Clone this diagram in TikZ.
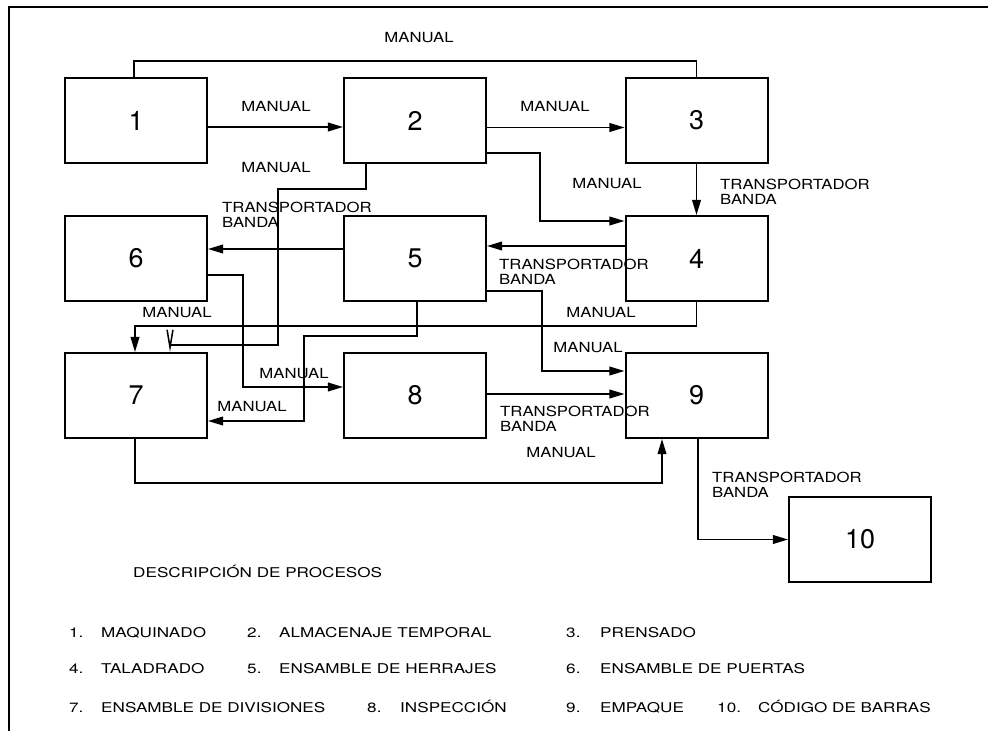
\documentclass[tikz,border=0pt]{standalone}
\usepackage{fontspec}
\usetikzlibrary{positioning,arrows.meta,calc}
\newfontfamily\lblfont[FakeStretch=1.2]{TeX Gyre Heros}
\newfontfamily\legfont[FakeStretch=1.27]{TeX Gyre Heros}
\newfontfamily\numfont{TeX Gyre Heros}

\begin{document}
\begin{tikzpicture}[
        x=0.03cm, y=-0.03cm,
        proc/.style={draw, line width=1.7pt, minimum width=4.26cm, minimum height=2.55cm, inner sep=0pt, font=\numfont\fontsize{23}{23}\selectfont},
        conn/.style={line width=1.4pt, -{Triangle[length=13pt, width=7.5pt]}},
        plain/.style={line width=1.4pt},
        barb/.style={line width=1.4pt, -{Straight Barb[length=15pt, width=5pt, line width=1.3pt]}},
        lbl/.style={inner sep=0pt, font=\lblfont\fontsize{11.9}{12.8}\selectfont},
        tblbl/.style={lbl, anchor=west, align=left},
        leg/.style={inner sep=0pt, anchor=base west, font=\legfont\fontsize{11.5}{12}\selectfont},
        frame/.style={line width=1.8pt}
    ]
        \useasboundingbox (0,0) rectangle (988,731);

        % Outer frame (top and left)
        \draw[frame] (988,7) -- (9,7) -- (9,731);

        % Process boxes
        \node[proc] (b1) at (136,120.5) {1};
        \node[proc] (b2) at (415,120.5) {2};
        \node[proc] (b3) at (696.5,120.5) {3};
        \node[proc] (b6) at (136,258.5) {6};
        \node[proc] (b5) at (415,258.5) {5};
        \node[proc] (b4) at (696.5,258.5) {4};
        \node[proc] (b7) at (136,395.5) {7};
        \node[proc] (b8) at (415,395.5) {8};
        \node[proc] (b9) at (696.5,395.5) {9};
        \node[proc] (b10) at (860,539.5) {10};

        % Connectors
        \draw[plain] ($(b1.north)+(-2,0)$) -- ++(0,-16) -| (b3.north);
        \draw[conn] ($(b1.east)+(0,6.5)$) -- ($(b2.west)+(0,6.5)$);
        \draw[conn] ($(b2.east)+(0,7)$) -- ($(b3.west)+(0,7)$);
        \draw[conn] ($(b2.east)+(0,32.5)$) -- ++(53,0) |- ($(b4.west)+(0,-37.5)$);
        \draw[conn] (b3.south) -- (b4.north);
        \draw[conn] ($(b4.west)+(0,-12.5)$) -- ($(b5.east)+(0,-12.5)$);
        \draw[conn] ($(b5.west)+(0,-9.5)$) -- ($(b6.east)+(0,-9.5)$);
        \draw[barb] ($(b2.south)+(-49,0)$) |- ++(-88,25) -- ++(0,156) -| ($(b7.north)+(34,0)$);
        \draw[conn] (b4.south) -- ++(0,24) -| ($(b7.north)+(-1,0)$);
        \draw[conn] ($(b6.east)+(0,16.5)$) -- ++(35,0) |- ($(b8.west)+(0,-8.5)$);
        \draw[conn] ($(b5.south)+(2,0)$) |- ++(-113,34) |- ($(b7.east)+(0,25.5)$);
        \draw[conn] ($(b5.east)+(0,32.5)$) -- ++(55,0) |- ($(b9.west)+(0,-24.5)$);
        \draw[conn] ($(b8.east)+(0,-1.5)$) -- ($(b9.west)+(0,-1.5)$);
        \draw[conn] ($(b7.south)+(-1,0)$) -- ++(0,44) -| ($(b9.south)+(-34.5,0)$);
        \draw[conn] ($(b9.south)+(1.5,0)$) |- (b10.west);

        % Connector labels
        \node[lbl] (m13) at (419,38) {MANUAL};
        \node[lbl] (m12) at (276,107) {MANUAL};
        \node[lbl] (m23) at (555,107) {MANUAL};
        \node[lbl] (m27) at (276,168) {MANUAL};
        \node[lbl] (m24) at (607,184) {MANUAL};
        \node[lbl] (m47a) at (177,313) {MANUAL};
        \node[lbl] (m47b) at (601,313) {MANUAL};
        \node[lbl] (m59) at (588,348) {MANUAL};
        \node[lbl] (m68) at (294,374) {MANUAL};
        \node[lbl] (m57) at (252,407) {MANUAL};
        \node[lbl] (m79) at (561,453) {MANUAL};

        \node[tblbl] (t34) at (720,191.5) {TRANSPORTADOR\\BANDA};
        \node[tblbl] (t56) at (222,214.5) {TRANSPORTADOR\\BANDA};
        \node[tblbl] (t45) at (499,271.5) {TRANSPORTADOR\\BANDA};
        \node[tblbl] (t89) at (500,418.5) {TRANSPORTADOR\\BANDA};
        \node[tblbl] (t910) at (712,484.5) {TRANSPORTADOR\\BANDA};

        % Legend
        \node[leg] (desc) at (133,577) {DESCRIPCIÓN DE PROCESOS};

        \node[leg] (n1) at (69,637) {1.};
        \node[leg] (d1) at (101,637) {MAQUINADO};
        \node[leg] (n2) at (247,637) {2.};
        \node[leg] (d2) at (279,637) {ALMACENAJE TEMPORAL};
        \node[leg] (n3) at (566,637) {3.};
        \node[leg] (d3) at (600,637) {PRENSADO};

        \node[leg] (n4) at (69,673) {4.};
        \node[leg] (d4) at (101,673) {TALADRADO};
        \node[leg] (n5) at (247,673) {5.};
        \node[leg] (d5) at (279,673) {ENSAMBLE DE HERRAJES};
        \node[leg] (n6) at (566,673) {6.};
        \node[leg] (d6) at (600,673) {ENSAMBLE DE PUERTAS};

        \node[leg] (n7) at (69,712) {7.};
        \node[leg] (d7) at (101,712) {ENSAMBLE DE DIVISIONES};
        \node[leg] (n8) at (367,712) {8.};
        \node[leg] (d8) at (400,712) {INSPECCIÓN};
        \node[leg] (n9) at (566,712) {9.};
        \node[leg] (d9) at (600,712) {EMPAQUE};
        \node[leg] (n10) at (717,712) {10.};
        \node[leg] (d10) at (758,712) {CÓDIGO DE BARRAS};

\end{tikzpicture}
\end{document}
